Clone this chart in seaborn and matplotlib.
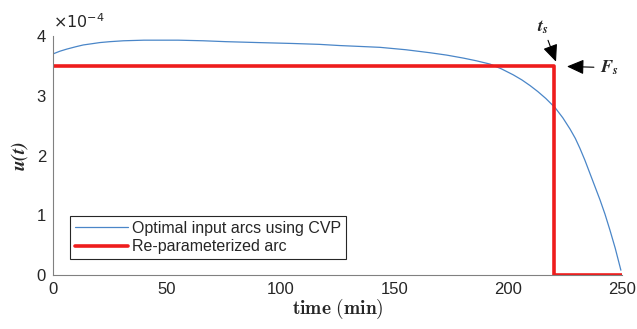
import matplotlib
matplotlib.use("Agg")
import matplotlib.pyplot as plt
import seaborn as sns
import pandas as pd

# Data (u in units of 1e-4)
t_cvp = [0, 3, 6, 10, 13.3, 17, 20.6, 25, 31, 40, 55, 66, 76, 90, 105, 117, 126,
         135, 143.7, 155, 165.6, 173, 180.3, 186, 192, 197, 202.2, 206, 209.6,
         213, 216.5, 220.6, 224, 227.2, 229.5, 231.5, 233.7, 235.9, 238.1,
         240.3, 242.5, 244.7, 247, 249.5]
u_cvp = [3.70, 3.745, 3.78, 3.82, 3.85, 3.87, 3.89, 3.905, 3.92, 3.93, 3.93, 3.92,
         3.905, 3.89, 3.875, 3.86, 3.84, 3.825, 3.81, 3.77, 3.72, 3.68, 3.63,
         3.585, 3.53, 3.45, 3.35, 3.265, 3.17, 3.07, 2.955, 2.80, 2.63, 2.44, 2.285,
         2.12, 1.92, 1.70, 1.48, 1.26, 1.02, 0.75, 0.45, 0.08]
t_rep = [0, 220, 220, 250]
u_rep = [3.5, 3.5, 0, 0]

label_cvp = "Optimal input arcs using CVP"
label_rep = "Re-parameterized arc"

sns.set_theme(style="white")
plt.rcParams["font.family"] = ["Liberation Sans", "DejaVu Sans"]
plt.rcParams["mathtext.fontset"] = "cm"

fig = plt.figure(figsize=(6.37, 3.29), dpi=100)
ax = fig.add_axes([0.0832, 0.1641, 0.8933, 0.7265])

df1 = pd.DataFrame({"t": t_cvp, "u": u_cvp})
df2 = pd.DataFrame({"t": t_rep, "u": u_rep})
sns.lineplot(data=df1, x="t", y="u", ax=ax, color="#4a86c8", lw=0.9,
             sort=False, estimator=None, label=label_cvp)
sns.lineplot(data=df2, x="t", y="u", ax=ax, color="#ee1c1c", lw=2.6,
             sort=False, estimator=None, label=label_rep)

ax.set_xlim(0, 250)
ax.set_ylim(0, 4)
ax.set_xticks([0, 50, 100, 150, 200, 250])
ax.set_yticks([0, 1, 2, 3, 4])
for s in ["top", "right"]:
    ax.spines[s].set_visible(False)
for s in ["left", "bottom"]:
    ax.spines[s].set_color("#808080")
    ax.spines[s].set_linewidth(0.8)
ax.tick_params(direction="in", length=4, width=0.8, color="#808080",
               labelsize=12, labelcolor="#262626", pad=5)
ax.set_xlabel(r"$\mathbf{time\ (min)}$", fontsize=14, labelpad=0, color="#262626")
ax.set_ylabel(r"$\mathbfit{u(t)}$", fontsize=14, labelpad=5, color="#262626",
              math_fontfamily="stix")
ax.text(0.0, 1.02, r"$\times10^{-4}$", transform=ax.transAxes, fontsize=11.5,
        color="#262626", ha="left", va="bottom", math_fontfamily="dejavusans")

leg = ax.legend(loc="lower left", bbox_to_anchor=(0.03, 0.067), fontsize=11.5,
                frameon=True, fancybox=False, edgecolor="#262626",
                framealpha=1, borderpad=0.3, handlelength=3.3,
                handletextpad=0.3, labelspacing=0.2, borderaxespad=0)
leg.get_frame().set_linewidth(0.8)

ax.annotate(r"$\mathbfit{t_s}$", xy=(221, 3.57), xytext=(215.3, 4.15),
            fontsize=13, ha="center", va="center", annotation_clip=False,
            math_fontfamily="stix",
            arrowprops=dict(arrowstyle="-|>,head_length=0.8,head_width=0.35",
                            color="black", lw=0.8, shrinkA=1, shrinkB=0))
ax.annotate(r"$\mathbfit{F_s}$", xy=(225.8, 3.49), xytext=(240.3, 3.47),
            fontsize=13, ha="left", va="center", annotation_clip=False,
            math_fontfamily="stix",
            arrowprops=dict(arrowstyle="-|>,head_length=0.8,head_width=0.35",
                            color="black", lw=0.8, shrinkA=2, shrinkB=0))

fig.savefig("out.png", dpi=100)
